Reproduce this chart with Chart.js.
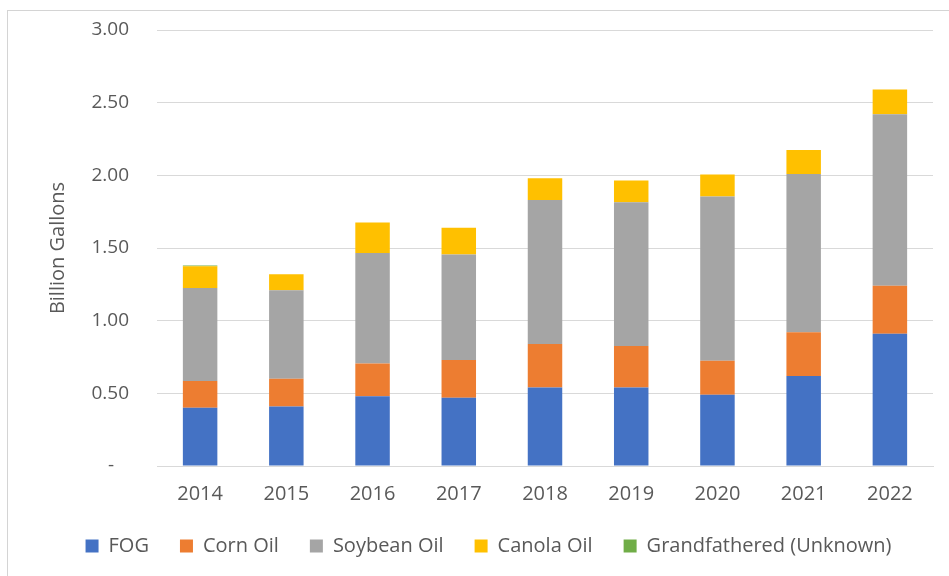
<!DOCTYPE html>
<html>
<head>
<meta charset="utf-8">
<script src="https://cdn.jsdelivr.net/npm/chart.js@4/dist/chart.umd.min.js"></script>
<style>
  html, body { margin: 0; padding: 0; background: #ffffff; }
  #wrap { position: relative; width: 949px; height: 576px; overflow: hidden; background: #ffffff; }
  #frame { position: absolute; left: 7px; top: 10px; width: 942px; height: 566px;
           border-left: 1px solid #d4d4d4; border-top: 1px solid #d4d4d4; box-sizing: border-box; }
  #chart { position: absolute; left: 0; top: 0; }
</style>
</head>
<body>
<div id="wrap">
  <div id="frame"></div>
  <canvas id="chart" width="949" height="576"></canvas>
</div>
<script>
// Biodiesel / renewable diesel feedstock volumes, billion gallons
const years = ['2014', '2015', '2016', '2017', '2018', '2019', '2020', '2021', '2022'];
const fog = [0.40, 0.41, 0.48, 0.47, 0.54, 0.54, 0.49, 0.62, 0.91];
const cornOil = [0.185, 0.19, 0.225, 0.26, 0.30, 0.285, 0.235, 0.30, 0.33];
const soybeanOil = [0.64, 0.61, 0.76, 0.725, 0.99, 0.99, 1.13, 1.09, 1.18];
const canolaOil = [0.15, 0.11, 0.21, 0.185, 0.15, 0.15, 0.15, 0.165, 0.17];
const grandfathered = [0.005, 0, 0, 0, 0, 0, 0, 0, 0];
const yTicks = [0, 0.5, 1.0, 1.5, 2.0, 2.5, 3.0];

const FONT = "'Open Sans', 'Noto Sans', sans-serif";
const TEXT = '#595959';
const GRID = '#d9d9d9';

const series = [
  { label: 'FOG', data: fog, color: '#4472C4' },
  { label: 'Corn Oil', data: cornOil, color: '#ED7D31' },
  { label: 'Soybean Oil', data: soybeanOil, color: '#A5A5A5' },
  { label: 'Canola Oil', data: canolaOil, color: '#FFC000' },
  { label: 'Grandfathered (Unknown)', data: grandfathered, color: '#70AD47' }
];

new Chart(document.getElementById('chart'), {
  type: 'bar',
  data: {
    labels: years,
    datasets: series.map(s => ({
      label: s.label,
      data: s.data,
      backgroundColor: s.color,
      borderWidth: 0,
      barPercentage: 0.4,
      categoryPercentage: 1.0
    }))
  },
  options: {
    responsive: false,
    animation: false,
    layout: { padding: { left: 44, right: 16, top: 30, bottom: 10 } },
    plugins: {
      tooltip: { enabled: false },
      legend: {
        position: 'bottom',
        labels: {
          font: { family: FONT, size: 20 },
          color: TEXT,
          boxWidth: 13,
          boxHeight: 13,
          padding: 31
        }
      }
    },
    scales: {
      x: {
        stacked: true,
        grid: { display: false, drawTicks: false },
        border: { display: true, color: GRID, width: 1 },
        ticks: { font: { family: FONT, size: 20 }, color: TEXT, padding: 16 },
        afterFit: s => { s.height = 39; }
      },
      y: {
        stacked: true,
        min: 0,
        max: 3,
        afterBuildTicks: s => { s.ticks = yTicks.map(v => ({ value: v })); },
        grid: { color: GRID, lineWidth: 1, drawTicks: false },
        border: { display: false },
        ticks: {
          font: { family: FONT, size: 19 },
          color: TEXT,
          padding: 28,
          callback: v => (v === 0 ? '-   ' : Number(v).toFixed(2))
        },
        title: {
          display: true,
          text: 'Billion Gallons',
          font: { family: FONT, size: 20 },
          color: TEXT,
          padding: { top: 2, bottom: 0 }
        },
        afterFit: s => { s.width = 113; s.paddingTop = 0; s.paddingBottom = 0; }
      }
    }
  }
});
</script>
</body>
</html>
